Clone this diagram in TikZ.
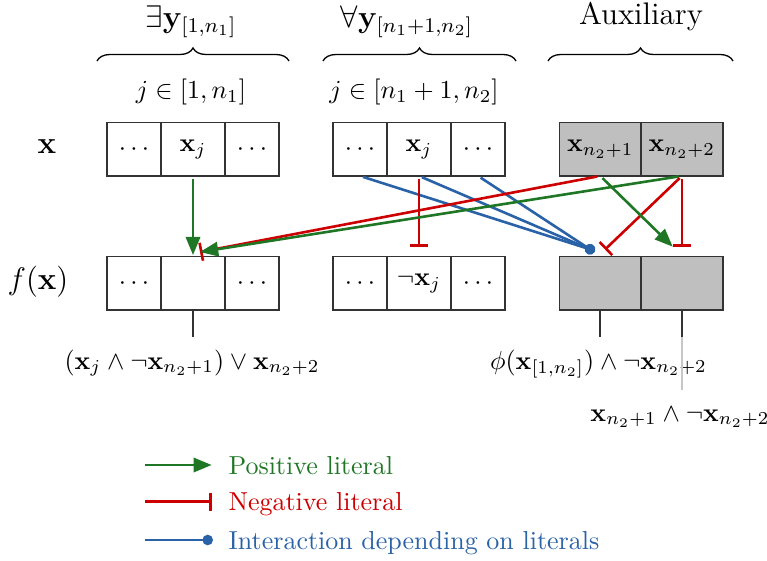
\documentclass[tikz,border=0pt]{standalone}
\usetikzlibrary{arrows.meta,decorations.pathreplacing}
\definecolor{posg}{RGB}{31,119,38}
\definecolor{negr}{RGB}{204,0,0}
\definecolor{intb}{RGB}{41,98,166}
\begin{document}
\begin{tikzpicture}[x=0.3846pt,y=-0.3846pt,
  cell/.style={draw=black!80,line width=0.6pt,inner sep=0pt,outer sep=0pt,minimum height=20.5pt},
  narrowcell/.style={cell,minimum width=20.77pt},
  widecell/.style={cell,minimum width=24.6pt},
  auxcell/.style={cell,minimum width=31.42pt,fill=black!25},
  posarrow/.style={draw=posg,line width=1pt,-{Triangle[length=7pt,width=5.5pt]},shorten <=1.2pt},
  negarrow/.style={draw=negr,line width=1pt,-{Bar[width=7pt]},shorten <=1.2pt},
  interarrow/.style={draw=intb,line width=1pt,-{Circle[length=4pt]},shorten <=1.2pt,shorten >=-2pt},
  outline/.style={draw=black!80,line width=0.6pt},
  bracestyle/.style={decorate,decoration={brace,amplitude=5pt},line width=0.5pt},
  legtext/.style={anchor=base west,inner sep=0pt}]
\useasboundingbox (0,0) rectangle (767,561);

% headings
\node[font=\large,anchor=base] (h1) at (191,28) {$\exists\mathbf{y}_{[1,n_1]}$};
\node[font=\large,anchor=base] (h2) at (407,28) {$\forall\mathbf{y}_{[n_1+1,n_2]}$};
\node[font=\large,anchor=base] (h3) at (641,25) {Auxiliary};

% braces
\coordinate (b1a) at (97,61); \coordinate (b1b) at (289,61);
\coordinate (b2a) at (323,61); \coordinate (b2b) at (516,61);
\coordinate (b3a) at (548,61); \coordinate (b3b) at (733,61);
\draw[bracestyle] (b1a) -- (b1b);
\draw[bracestyle] (b2a) -- (b2b);
\draw[bracestyle] (b3a) -- (b3b);

% index labels
\node[anchor=base] (j1) at (191,99) {$j\in[1,n_1]$};
\node[anchor=base] (j2) at (414,99) {$j\in[n_1+1,n_2]$};

% row labels
\node[font=\large] (lx) at (47,147) {$\mathbf{x}$};
\node[font=\large] (lf) at (38,282) {$f(\mathbf{x})$};

% top row
\node[narrowcell] (tx0) at (134,149.3) {$\cdots$};
\node[widecell]   (tx1) at (193,149.3) {$\mathbf{x}_j$};
\node[narrowcell] (tx2) at (252,149.3) {$\cdots$};
\node[narrowcell] (tm0) at (360,149.3) {$\cdots$};
\node[widecell]   (tm1) at (419,149.3) {$\mathbf{x}_j$};
\node[narrowcell] (tm2) at (478,149.3) {$\cdots$};
\node[auxcell] (ta1) at (600.2,149.3) {$\mathbf{x}_{n_2+1}$};
\node[auxcell] (ta2) at (681.9,149.3) {$\mathbf{x}_{n_2+2}$};

% bottom row
\node[narrowcell] (fx0) at (134,283.3) {$\cdots$};
\node[widecell]   (fx1) at (193,283.3) {};
\node[narrowcell] (fx2) at (252,283.3) {$\cdots$};
\node[narrowcell] (fm0) at (360,283.3) {$\cdots$};
\node[widecell]   (fm1) at (419,283.3) {$\neg\mathbf{x}_j$};
\node[narrowcell] (fm2) at (478,283.3) {$\cdots$};
\node[auxcell] (fa1) at (600.2,283.3) {};
\node[auxcell] (fa2) at (681.9,283.3) {};

% target coordinates
\coordinate (c1) at (200,252);
\coordinate (bd) at (590,249.3);
\coordinate (ca1) at (605,249.5);
\coordinate (ca2) at (672.7,246.7);

% interaction lines
\draw[interarrow] (tm0.south) -- (bd);
\draw[interarrow] (tm1.south) -- (bd);
\draw[interarrow] (tm2.south) -- (bd);

% literal connectors
\draw[posarrow,shorten >=0.6pt] (tx1.south) -- (fx1.north);
\draw[negarrow,shorten >=3.85pt] (tm1.south) -- (fm1.north);
\draw[negarrow] (ta1.south) -- (c1);
\draw[posarrow] (ta2.south) -- (c1);
\draw[negarrow] (ta2.south) -- (ca1);
\draw[posarrow] (ta1.south) -- (ca2);
\draw[negarrow,shorten >=3.85pt] (ta2.south) -- (fa2.north);

% outputs
\coordinate (o1) at (193,336.7);
\coordinate (o2) at (600.2,336.7);
\coordinate (o3) at (681.9,336.7);
\coordinate (o4) at (681.9,390);
\draw[outline] (fx1.south) -- (o1);
\draw[outline] (fa1.south) -- (o2);
\draw[outline] (fa2.south) -- (o3);

\node[anchor=base] (e1) at (192,369) {$(\mathbf{x}_j\land\neg\mathbf{x}_{n_2+1})\lor\mathbf{x}_{n_2+2}$};
\node[anchor=base] (e2) at (598.5,369) {$\phi(\mathbf{x}_{[1,n_2]})\land\neg\mathbf{x}_{n_2+2}$};
\node[anchor=base] (e3) at (680,421) {$\mathbf{x}_{n_2+1}\land\neg\mathbf{x}_{n_2+2}$};
\draw[draw=black!22,line width=0.6pt] (o3) -- (o4);

% legend
\coordinate (l1a) at (142,465);   \coordinate (l1b) at (211.7,465);
\coordinate (l2a) at (142,501.7); \coordinate (l2b) at (211.7,501.7);
\coordinate (l3a) at (142,540);   \coordinate (l3b) at (207.7,540);
\draw[posarrow] (l1a) -- (l1b);
\draw[negarrow] (l2a) -- (l2b);
\draw[interarrow] (l3a) -- (l3b);
\node[legtext,text=posg] (t1) at (228,474) {Positive literal};
\node[legtext,text=negr] (t2) at (228,510.7) {Negative literal};
\node[legtext,text=intb] (t3) at (228,549) {Interaction depending on literals};
\end{tikzpicture}
\end{document}
